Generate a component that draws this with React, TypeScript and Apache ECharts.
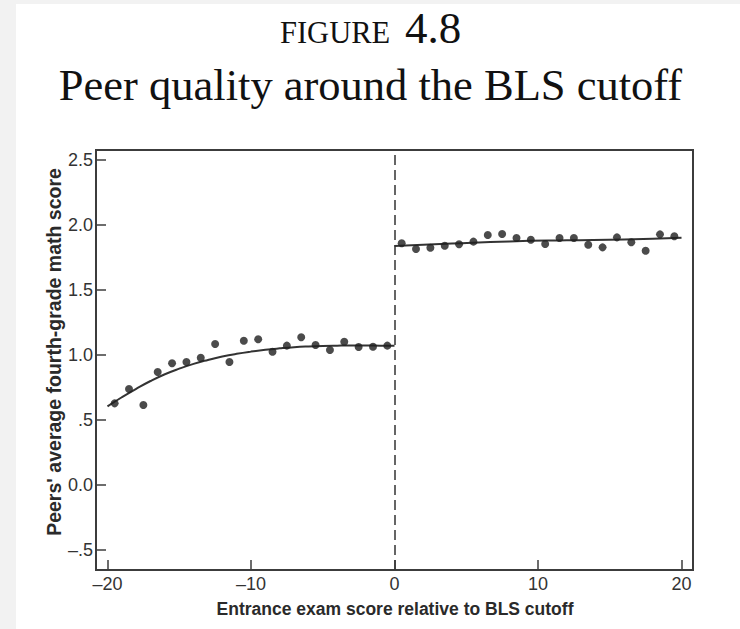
import React, { useEffect, useRef } from "react";
import * as echarts from "echarts";

// Binned scatter, left of cutoff
const leftX = [-19.5, -18.5, -17.5, -16.5, -15.5, -14.5, -13.5, -12.5, -11.5, -10.5, -9.5, -8.5, -7.5, -6.5, -5.5, -4.5, -3.5, -2.5, -1.5, -0.5];
const leftY = [0.628, 0.738, 0.615, 0.869, 0.936, 0.946, 0.979, 1.085, 0.946, 1.11, 1.121, 1.025, 1.072, 1.136, 1.077, 1.038, 1.102, 1.062, 1.064, 1.072];
// Binned scatter, right of cutoff
const rightX = [0.5, 1.5, 2.5, 3.5, 4.5, 5.5, 6.5, 7.5, 8.5, 9.5, 10.5, 11.5, 12.5, 13.5, 14.5, 15.5, 16.5, 17.5, 18.5, 19.5];
const rightY = [1.859, 1.815, 1.825, 1.841, 1.852, 1.872, 1.923, 1.931, 1.9, 1.887, 1.854, 1.9, 1.9, 1.848, 1.828, 1.905, 1.867, 1.802, 1.928, 1.913];
// Fitted curves
const leftFitX = [-20, -19, -18, -17, -16, -15, -14, -13, -12, -11, -10, -9, -8, -7, -6, -5, -4, -3, -2, -1, 0];
const leftFitY = [0.605, 0.675, 0.74, 0.8, 0.852, 0.895, 0.932, 0.962, 0.988, 1.009, 1.026, 1.04, 1.051, 1.06, 1.066, 1.07, 1.072, 1.073, 1.073, 1.072, 1.072];
const rightFitX = [0, 4, 8, 12, 16, 20];
const rightFitY = [1.838, 1.857, 1.874, 1.883, 1.889, 1.902];
// Ticks
const xTickValues = [-20, -10, 0, 10, 20];
const xTickLabels = ["\u201320", "\u201310", "0", "10", "20"];
const yTickValues = [-0.5, 0, 0.5, 1, 1.5, 2, 2.5];
const yTickLabels = ["\u2013.5", "0.0", ".5", "1.0", "1.5", "2.0", "2.5"];

const titleLine1a = "FIGURE";
const titleLine1b = "4.8";
const titleLine2 = "Peer quality around the BLS cutoff";
const xName = "Entrance exam score relative to BLS cutoff";
const yName = "Peers' average fourth-grade math score";

const zip = (xs: number[], ys: number[]) => xs.map((x, i) => [x, ys[i]]);

export default function App() {
  const ref = useRef<HTMLDivElement>(null);
  useEffect(() => {
    document.body.style.margin = "0";
    if (!ref.current) return;
    const chart = echarts.init(ref.current, null, { renderer: "svg" });
    const serif = "'Liberation Serif', 'Times New Roman', serif";
    const sans = "'Liberation Sans', Arial, sans-serif";
    const axisCol = "#3c3c3c";
    chart.setOption({
      animation: false,
      backgroundColor: "#f2f2f2",
      grid: {
        left: 96,
        right: 47,
        top: 150,
        bottom: 59,
        show: true,
        borderColor: axisCol,
        borderWidth: 2,
        backgroundColor: "#ffffff",
      },
      xAxis: {
        type: "value",
        min: -20.8,
        max: 20.8,
        splitLine: { show: false },
        axisLine: { show: true, onZero: false, lineStyle: { color: axisCol, width: 2 } },
        axisTick: {
          show: true,
          inside: true,
          length: 10,
          customValues: xTickValues,
          lineStyle: { color: axisCol, width: 1.5 },
        },
        axisLabel: {
          customValues: xTickValues,
          margin: 5,
          fontFamily: sans,
          fontSize: 18,
          color: "#333",
          formatter: (v: number) => {
            const i = xTickValues.indexOf(v);
            return i >= 0 ? xTickLabels[i] : "";
          },
        },
      },
      yAxis: {
        type: "value",
        min: -0.654,
        max: 2.577,
        splitLine: { show: false },
        axisLine: { show: true, onZero: false, lineStyle: { color: axisCol, width: 2 } },
        axisTick: {
          show: true,
          inside: true,
          length: 10,
          customValues: yTickValues,
          lineStyle: { color: axisCol, width: 1.5 },
        },
        axisLabel: {
          customValues: yTickValues,
          margin: 3,
          fontFamily: sans,
          fontSize: 18,
          color: "#333",
          formatter: (v: number) => {
            const i = yTickValues.findIndex((t) => Math.abs(t - v) < 1e-6);
            return i >= 0 ? yTickLabels[i] : "";
          },
        },
      },
      graphic: [
        {
          type: "rect",
          z: -100,
          silent: true,
          shape: { x: 16, y: 4, width: 740, height: 640 },
          style: { fill: "#ffffff" },
        },
        {
          type: "text",
          x: 280,
          y: 33,
          style: {
            text: titleLine1a,
            font: `30.5px ${serif}`,
            fill: "#111",
            textAlign: "left",
            align: "left",
            textVerticalAlign: "middle",
            verticalAlign: "middle",
          },
        },
        {
          type: "text",
          x: 405,
          y: 28,
          style: {
            text: titleLine1b,
            font: `45px ${serif}`,
            fill: "#111",
            textAlign: "left",
            align: "left",
            textVerticalAlign: "middle",
            verticalAlign: "middle",
          },
        },
        {
          type: "text",
          x: 370.5,
          y: 85,
          style: {
            text: titleLine2,
            font: `44.5px ${serif}`,
            fill: "#111",
            textAlign: "center",
            align: "center",
            textVerticalAlign: "middle",
            verticalAlign: "middle",
          },
        },
        {
          type: "text",
          x: 395,
          y: 608.5,
          style: {
            text: xName,
            font: `bold 17.5px ${sans}`,
            fill: "#2a2a2a",
            textAlign: "center",
            align: "center",
            textVerticalAlign: "middle",
            verticalAlign: "middle",
          },
        },
        {
          type: "text",
          x: 54,
          y: 352,
          rotation: Math.PI / 2,
          style: {
            text: yName,
            font: `bold 19.5px ${sans}`,
            fill: "#2a2a2a",
            textAlign: "center",
            align: "center",
            textVerticalAlign: "middle",
            verticalAlign: "middle",
          },
        },
      ],
      series: [
        {
          type: "line",
          data: zip(leftFitX, leftFitY),
          smooth: true,
          showSymbol: false,
          symbol: "none",
          silent: true,
          lineStyle: { color: "#333", width: 2 },
          z: 3,
        },
        {
          type: "line",
          data: zip(rightFitX, rightFitY),
          smooth: true,
          showSymbol: false,
          symbol: "none",
          silent: true,
          lineStyle: { color: "#333", width: 2 },
          z: 3,
        },
        {
          type: "scatter",
          data: zip(leftX, leftY),
          symbolSize: 8,
          itemStyle: { color: "#1e1e1e" },
          silent: true,
          z: 4,
          markLine: {
            silent: true,
            symbol: ["none", "none"],
            label: { show: false },
            lineStyle: { color: "#333", type: [10, 5], width: 1.5 },
            data: [{ xAxis: 0 }],
          },
        },
        {
          type: "scatter",
          data: zip(rightX, rightY),
          symbolSize: 8,
          itemStyle: { color: "#1e1e1e" },
          silent: true,
          z: 4,
        },
      ],
    });
    return () => chart.dispose();
  }, []);
  return <div ref={ref} style={{ width: 740, height: 629 }} />;
}
